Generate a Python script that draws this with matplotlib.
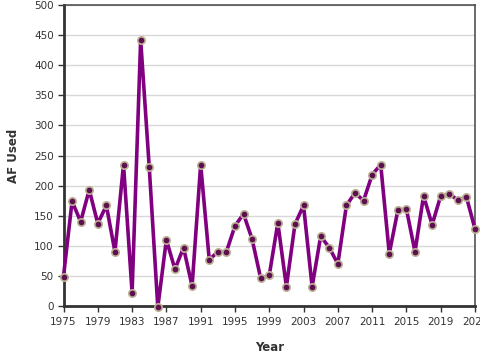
import matplotlib
matplotlib.use("Agg")
import matplotlib.pyplot as plt

years = list(range(1975, 2024))
af_used = [49, 174, 140, 193, 137, 167, 90, 235, 22, 442,
           231, -2, 110, 61, 97, 33, 235, 77, 90, 90,
           133, 153, 111, 46, 51, 138, 32, 136, 167, 32,
           116, 97, 70, 167, 188, 175, 218, 235, 87, 159,
           161, 90, 183, 135, 183, 186, 176, 181, 128]
xticks = list(range(1975, 2024, 4))
yticks = list(range(0, 501, 50))

fig = plt.figure(figsize=(4.8, 3.6), dpi=100)
ax = fig.add_axes([63.5 / 480, 1 - 306 / 360, (475 - 63.5) / 480, (306 - 5) / 360])

ax.plot(years, af_used, color="#800080", linewidth=2.6, zorder=3, clip_on=False)
ax.scatter(years, af_used, s=28, color="#5c1050", edgecolors="#bcb094",
           linewidths=1.2, zorder=4, clip_on=False)

ax.set_xlim(1975, 2023)
ax.set_ylim(0, 500)
ax.set_xticks(xticks)
ax.set_yticks(yticks)
ax.tick_params(labelsize=7.5, length=4, width=1, colors="#333333", pad=3)
ax.tick_params(axis="x", pad=4)
ax.grid(axis="y", color="#d8d8d8", linewidth=1)
ax.set_axisbelow(True)

for side in ["left", "bottom"]:
    ax.spines[side].set_linewidth(2)
    ax.spines[side].set_color("#333333")
for side in ["top", "right"]:
    ax.spines[side].set_linewidth(1.1)
    ax.spines[side].set_color("#444444")

ax.set_xlabel("Year", fontsize=8.5, fontweight="bold", color="#333333", labelpad=10)
ax.set_ylabel("AF Used", fontsize=8.5, fontweight="bold", color="#333333", labelpad=10)

fig.savefig("out.png", dpi=100)
